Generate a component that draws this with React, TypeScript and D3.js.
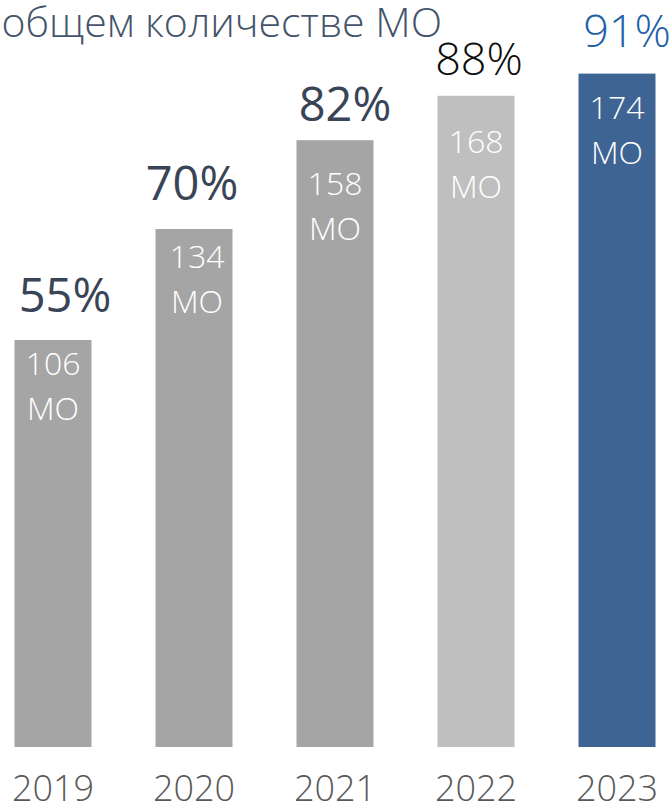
import { useEffect, useRef } from "react"
import * as d3 from "d3"

const YEARS = ["2019", "2020", "2021", "2022", "2023"]
const SHARE = [55, 70, 82, 88, 91] // % of all MO
const COUNT = [106, 134, 158, 168, 174] // number of MO
const TITLE = "общем количестве МО"

const BAR_FILL = ["#a5a5a5", "#a5a5a5", "#a5a5a5", "#bfbfbf", "#3e6494"]
const PCT_FILL = ["#3a4457", "#3a4457", "#3a4457", "#0d0d0d", "#1e5fa6"]
const PCT_WEIGHT = [500, 500, 500, 300, 300]
// hand-placed label nudges in the source slide
const PCT_DX = [12, -2, 10, 3, 10]
const PCT_GAP = [28, 29, 19, 21, 27]
const INNER_DX = [0, 3, 0, 0, 0]
const INNER_DY = [35, 39, 55, 57, 45]

const W = 672
const H = 806
const FONT = "'Open Sans', 'Noto Sans', sans-serif"

export default function App() {
  const ref = useRef<SVGSVGElement>(null)

  useEffect(() => {
    if (!ref.current) return
    const svg = d3.select(ref.current)
    svg.selectAll("*").remove()

    const data = YEARS.map((year, i) => ({ year, share: SHARE[i], count: COUNT[i], i }))

    const x = d3
      .scaleBand<string>()
      .domain(YEARS)
      .range([-17.5, 687.5])
      .paddingInner(0.454)
      .paddingOuter(0.227)
    const y = d3.scaleLinear().domain([0, 100]).range([747, 7])
    const cx = (d: { year: string }) => x(d.year)! + x.bandwidth() / 2

    // title (cut off on the left in the source)
    svg
      .append("text")
      .attr("x", 442)
      .attr("y", 37)
      .attr("text-anchor", "end")
      .attr("font-family", FONT)
      .attr("font-weight", 300)
      .attr("font-size", 41)
      .attr("fill", "#44546a")
      .text(TITLE)

    // bars
    svg
      .append("g")
      .selectAll("rect")
      .data(data)
      .join("rect")
      .attr("x", (d) => x(d.year)!)
      .attr("y", (d) => y(d.share))
      .attr("width", x.bandwidth())
      .attr("height", (d) => y(0) - y(d.share))
      .attr("fill", (d) => BAR_FILL[d.i])

    // percent labels above bars
    svg
      .append("g")
      .selectAll("text")
      .data(data)
      .join("text")
      .attr("x", (d) => cx(d) + PCT_DX[d.i])
      .attr("y", (d) => y(d.share) - PCT_GAP[d.i])
      .attr("text-anchor", "middle")
      .attr("font-family", FONT)
      .attr("font-size", (d) => (d.i < 3 ? 47 : 45))
      .attr("font-weight", (d) => PCT_WEIGHT[d.i])
      .attr("fill", (d) => PCT_FILL[d.i])
      .text((d) => `${d.share}%`)

    // counts inside bars
    const inner = svg
      .append("g")
      .selectAll("g")
      .data(data)
      .join("g")
      .attr("transform", (d) => `translate(${cx(d) + INNER_DX[d.i]},${y(d.share) + INNER_DY[d.i]})`)
      .attr("font-family", FONT)
      .attr("font-size", 32)
      .attr("font-weight", 300)
      .attr("fill", "#ffffff")
      .attr("text-anchor", "middle")
    inner.append("text").text((d) => d.count)
    inner.append("text").attr("y", 45).text("МО")

    // year axis labels
    svg
      .append("g")
      .selectAll("text")
      .data(data)
      .join("text")
      .attr("x", cx)
      .attr("y", 801)
      .attr("text-anchor", "middle")
      .attr("font-family", FONT)
      .attr("font-size", 36)
      .attr("font-weight", 300)
      .attr("fill", "#595959")
      .text((d) => d.year)
  }, [])

  return (
    <svg
      ref={ref}
      width={W}
      height={H}
      style={{ position: "absolute", left: 0, top: 0, background: "#fff" }}
    />
  )
}
